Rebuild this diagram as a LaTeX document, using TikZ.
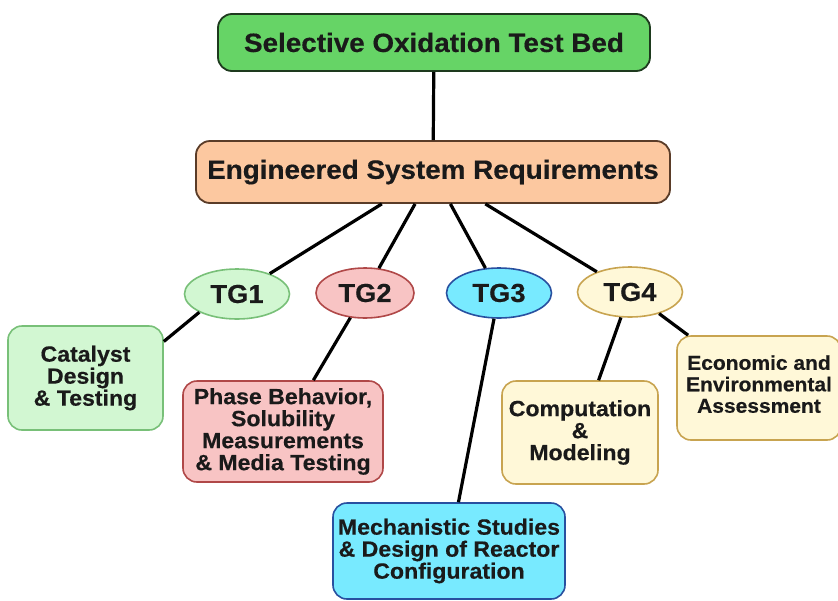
\documentclass[tikz,border=0pt]{standalone}
\usepackage{fontspec}
\usetikzlibrary{shapes.geometric}
\newfontfamily\lab{Liberation Sans}[FakeStretch=1.05, FakeBold=0.4]
\definecolor{topfill}{HTML}{66D466}
\definecolor{topdraw}{HTML}{1E3A1E}
\definecolor{engfill}{HTML}{FCC8A0}
\definecolor{engdraw}{HTML}{5A3C28}
\definecolor{gfill}{HTML}{D2F7D2}
\definecolor{gdraw}{HTML}{78C078}
\definecolor{pfill}{HTML}{F8C4C4}
\definecolor{pdraw}{HTML}{B04848}
\definecolor{cfill}{HTML}{78EAFF}
\definecolor{cdraw}{HTML}{2850A0}
\definecolor{yfill}{HTML}{FFF8D8}
\definecolor{ydraw}{HTML}{C8A450}
\definecolor{txt}{HTML}{1A1A1A}
\begin{document}
\begin{tikzpicture}[x=1pt,y=-1pt,
  bigbox/.style={rectangle, rounded corners=14pt, line width=1.8pt, inner sep=0pt,
    text=txt, font=\lab\bfseries\fontsize{26.5}{28}\selectfont},
  smallbox/.style={rectangle, rounded corners=14pt, line width=1.6pt, inner sep=0pt,
    align=center, text=txt, font=\lab\bfseries\fontsize{22}{22}\selectfont},
  tg/.style={ellipse, line width=1.6pt, inner sep=0pt, minimum width=105pt,
    minimum height=50pt, text=txt, font=\lab\bfseries\fontsize{26}{27}\selectfont},
  link/.style={line width=3.2pt, draw=black}]
\useasboundingbox (0,0) rectangle (838,600);
\fill[white] (0,0) rectangle (838,600);

\node[bigbox, fill=topfill, draw=topdraw, minimum width=432pt, minimum height=57pt] (top) at (434,42.5) {Selective Oxidation Test Bed};
\node[bigbox, fill=engfill, draw=engdraw, minimum width=474pt, minimum height=62pt] (eng) at (433,172) {Engineered System Requirements};

\node[tg, fill=gfill, draw=gdraw] (tg1) at (237,294) {TG1};
\node[tg, fill=pfill, draw=pdraw, minimum width=98pt] (tg2) at (365,293) {TG2};
\node[tg, fill=cfill, draw=cdraw] (tg3) at (499,293) {TG3};
\node[tg, fill=yfill, draw=ydraw] (tg4) at (630,292) {TG4};

\node[smallbox, fill=gfill, draw=gdraw, minimum width=155pt, minimum height=104pt] (cat) at (85.5,378) {Catalyst\\Design\\\& Testing};
\node[smallbox, fill=pfill, draw=pdraw, minimum width=200pt, minimum height=101pt] (phase) at (283,431.5) {Phase Behavior,\\Solubility\\Measurements\\\& Media Testing};
\node[smallbox, fill=cfill, draw=cdraw, minimum width=232pt, minimum height=96pt] (mech) at (449,551) {Mechanistic Studies\\\& Design of Reactor\\Configuration};
\node[smallbox, fill=yfill, draw=ydraw, minimum width=156pt, minimum height=103pt] (comp) at (580,432.5) {Computation\\\&\\Modeling};
\node[smallbox, fill=yfill, draw=ydraw, minimum width=164pt, minimum height=104pt, text depth=8pt,
  font=\lab\bfseries\fontsize{20}{21.5}\selectfont] (econ) at (759,388) {Economic and\\Environmental\\Assessment};

\draw[link] (top) -- (eng);
\draw[link] (eng) -- (tg1);
\draw[link] (eng) -- (tg2);
\draw[link] (eng) -- (tg3);
\draw[link] (eng) -- (tg4);
\draw[link] (tg1.south west) -- (cat.25);
\draw[link] (tg2) -- (phase);
\draw[link] (tg3) -- (mech);
\draw[link] (tg4) -- (comp);
\draw[link] (tg4) -- (econ);
\end{tikzpicture}
\end{document}
